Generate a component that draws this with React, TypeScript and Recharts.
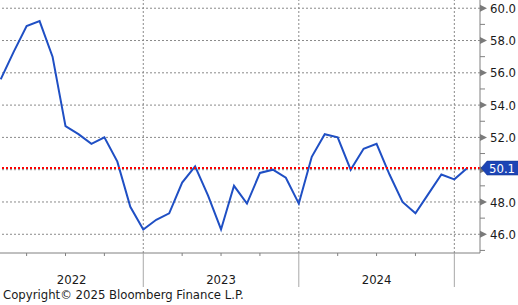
import React from 'react';
import { LineChart, Line, XAxis, YAxis, ReferenceLine } from 'recharts';

// ---- data ----
const months: string[] = [
  '2022-02', '2022-03', '2022-04', '2022-05', '2022-06', '2022-07', '2022-08', '2022-09', '2022-10', '2022-11', '2022-12',
  '2023-01', '2023-02', '2023-03', '2023-04', '2023-05', '2023-06', '2023-07', '2023-08', '2023-09', '2023-10', '2023-11', '2023-12',
  '2024-01', '2024-02', '2024-03', '2024-04', '2024-05', '2024-06', '2024-07', '2024-08', '2024-09', '2024-10', '2024-11', '2024-12',
  '2025-01', '2025-02',
];
const values: number[] = [
  55.6, 57.3, 58.9, 59.2, 57.0, 52.7, 52.2, 51.6, 52.0, 50.5, 47.7,
  46.3, 46.9, 47.3, 49.2, 50.2, 48.4, 46.3, 49.0, 47.9, 49.8, 50.0, 49.5,
  47.9, 50.8, 52.2, 52.0, 50.0, 51.3, 51.6, 49.7, 48.0, 47.3, 48.5, 49.7,
  49.4, 50.1,
];
const majorYTicks: number[] = [46, 48, 50, 52, 54, 56, 58, 60];
const minorYTicks: number[] = [45, 47, 49, 51, 53, 55, 57, 59];
const yearLabels: string[] = ['2022', '2023', '2024'];
const lastValue = values[values.length - 1];

// ---- helpers ----
const [y0, m0] = months[0].split('-').map(Number);
const monthPos = (y: number, m: number) => (y - y0) * 12 + (m - m0);
const X_DOMAIN: [number, number] = [-0.054, 36.98];
const Y_DOMAIN: [number, number] = [44.84, 60.51];

const data = months.map((m, i) => ({ i, v: values[i] }));

// quarterly minor ticks & year separators
const quarterTicks: number[] = [];
const separators: number[] = [];
for (let y = y0; y <= 2025; y++) {
  for (const m of [1, 4, 7, 10]) {
    const p = monthPos(y, m);
    if (p > X_DOMAIN[0] && p < X_DOMAIN[1]) {
      quarterTicks.push(p);
      if (m === 1) separators.push(p);
    }
  }
}
const labelPos: { pos: number; label: string }[] = yearLabels.map((lab) => {
  const y = Number(lab);
  const s = Math.max(monthPos(y, 1), X_DOMAIN[0]);
  const e = Math.min(monthPos(y + 1, 1), X_DOMAIN[1]);
  return { pos: (s + e) / 2, label: lab };
});
const xTicks = Array.from(new Set([...quarterTicks, ...labelPos.map((l) => l.pos)])).sort((a, b) => a - b);

const FONT = '"DejaVu Sans Condensed", "Liberation Sans", Arial, sans-serif';
const GRID = '#8a8a8a';
const AXIS = '#808080';

const XTick = (props: any) => {
  const { x, y, payload } = props;
  const v = payload.value;
  const lab = labelPos.find((l) => Math.abs(l.pos - v) < 1e-6);
  const isSep = separators.some((s) => Math.abs(s - v) < 1e-6);
  const isQ = quarterTicks.some((s) => Math.abs(s - v) < 1e-6);
  return (
    <g>
      {isSep ? (
        <line x1={x} x2={x} y1={y} y2={y + 34} stroke="#a8a8a8" strokeWidth={1} />
      ) : isQ ? (
        <line x1={x} x2={x} y1={y} y2={y + 3} stroke={AXIS} strokeWidth={1} />
      ) : null}
      {lab ? (
        <text x={x} y={y + 31} textAnchor="middle" fontFamily={FONT} fontSize={13} fill="#1a1a1a">
          {lab.label}
        </text>
      ) : null}
    </g>
  );
};

const yTicks = [...majorYTicks, ...minorYTicks, lastValue];

const YTick = (props: any) => {
  const { x, y, payload, index } = props;
  const v = payload.value;
  if (index === yTicks.length - 1) {
    return (
      <g>
        <polygon
          points={`${x + 1},${y} ${x + 7},${y - 7} ${x + 40},${y - 7} ${x + 40},${y + 7} ${x + 7},${y + 7}`}
          fill="#1d45b5"
          stroke="#15348c"
          strokeWidth={0.5}
        />
        <text x={x + 9} y={y} dy="0.36em" fontFamily={FONT} fontSize={13} fill="#ffffff">
          {v.toFixed(1)}
        </text>
      </g>
    );
  }
  if (majorYTicks.includes(v)) {
    // the value tag covers the label nearest the last value
    const hidden = Math.abs(v - lastValue) < 1;
    return (
      <g>
        <polygon points={`${x},${y - 3.5} ${x + 7},${y} ${x},${y + 3.5}`} fill="#7a7a7a" />
        {hidden ? null : (
          <text x={x + 10} y={y} dy="0.36em" fontFamily={FONT} fontSize={13} fill="#1a1a1a">
            {v.toFixed(1)}
          </text>
        )}
      </g>
    );
  }
  return <line x1={x} x2={x + 5} y1={y} y2={y} stroke={AXIS} strokeWidth={1} />;
};

export default function App() {
  return (
    <div style={{ position: 'absolute', left: 0, top: 0, width: 518, height: 305, background: '#fff' }}>
      <LineChart width={518} height={305} data={data} margin={{ top: 0, right: 0, bottom: 0, left: 0 }}>
        <XAxis
          dataKey="i"
          type="number"
          domain={X_DOMAIN}
          ticks={xTicks}
          interval={0}
          tickSize={0}
          tickMargin={0}
          tickLine={false}
          axisLine={{ stroke: AXIS, strokeWidth: 1 }}
          tick={<XTick />}
          height={52}
        />
        <YAxis
          orientation="right"
          type="number"
          domain={Y_DOMAIN}
          allowDataOverflow
          ticks={yTicks}
          interval={0}
          tickSize={0}
          tickMargin={0}
          tickLine={false}
          axisLine={{ stroke: AXIS, strokeWidth: 1 }}
          tick={<YTick />}
          width={38}
        />
        {majorYTicks.map((t) => (
          <ReferenceLine key={'h' + t} y={t} stroke={GRID} strokeWidth={1} strokeDasharray="2 2" />
        ))}
        {separators.map((s) => (
          <ReferenceLine key={'v' + s} x={s} stroke={GRID} strokeWidth={1} strokeDasharray="2 2" />
        ))}
        <Line
          dataKey="v"
          type="linear"
          stroke="#1f4fc4"
          strokeWidth={2}
          dot={false}
          activeDot={false}
          isAnimationActive={false}
        />
        <ReferenceLine y={lastValue} stroke="#ff0000" strokeWidth={2} strokeDasharray="2 2" />
      </LineChart>
      <svg width={518} height={305} style={{ position: 'absolute', left: 0, top: 0, pointerEvents: 'none' }}>
        <text x={3} y={299} fontFamily={FONT} fontSize={13} fill="#1a1a1a">
          Copyright© 2025 Bloomberg Finance L.P.
        </text>
      </svg>
    </div>
  );
}
